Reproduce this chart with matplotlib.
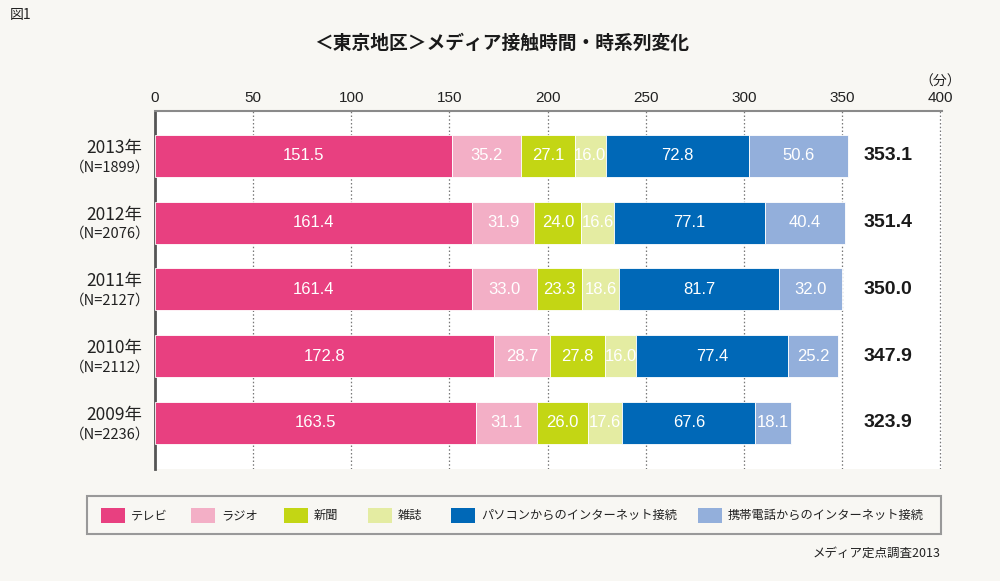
import matplotlib
matplotlib.use("Agg")
import matplotlib.pyplot as plt
from matplotlib.patches import Rectangle

plt.rcParams['font.family'] = ['Noto Sans CJK JP', 'DejaVu Sans']

# data
years = ['2013年', '2012年', '2011年', '2010年', '2009年']
samples = ['（N=1899）', '（N=2076）', '（N=2127）', '（N=2112）', '（N=2236）']
media = ['テレビ', 'ラジオ', '新聞', '雑誌', 'パソコンからのインターネット接続', '携帯電話からのインターネット接続']
tv = [151.5, 161.4, 161.4, 172.8, 163.5]
radio = [35.2, 31.9, 33.0, 28.7, 31.1]
paper = [27.1, 24.0, 23.3, 27.8, 26.0]
magazine = [16.0, 16.6, 18.6, 16.0, 17.6]
pc_net = [72.8, 77.1, 81.7, 77.4, 67.6]
mobile_net = [50.6, 40.4, 32.0, 25.2, 18.1]
totals = [353.1, 351.4, 350.0, 347.9, 323.9]
xticks = [0, 50, 100, 150, 200, 250, 300, 350, 400]

series = [tv, radio, paper, magazine, pc_net, mobile_net]
colors = ['#e84080', '#f3afc6', '#c3d614', '#e4eca2', '#0068b7', '#93afdb']
bg = '#f8f7f3'

fig = plt.figure(figsize=(10, 5.81), dpi=100, facecolor=bg)
ax = fig.add_axes([0.155, 0.193, 0.787, 0.616])
ax.set_facecolor('white')

ypos = list(range(len(years)))
left = [0.0] * len(years)
for vals, col in zip(series, colors):
    bars = ax.barh(ypos, vals, left=left, height=0.63, color=col,
                   edgecolor='white', linewidth=0.6, zorder=3)
    for b, v in zip(bars, vals):
        ax.text(b.get_x() + b.get_width() / 2, b.get_y() + b.get_height() / 2,
                '%.1f' % v, ha='center', va='center', color='white',
                fontsize=12, family=['Liberation Sans', 'DejaVu Sans'], zorder=4)
    left = [l + v for l, v in zip(left, vals)]

# totals at the right
for y, t in zip(ypos, totals):
    ax.text(361, y, '%.1f' % t, ha='left', va='center', fontsize=14,
            fontweight='bold', family=['Liberation Sans', 'DejaVu Sans'], color='#1a1a1a')

ax.set_xlim(0, 401)
ax.set_ylim(4.69, -0.674)
ax.xaxis.tick_top()
ax.set_xticks(xticks)
ax.set_xticklabels([str(v) for v in xticks], fontsize=11, color='#222222',
                   family=['Liberation Sans Narrow', 'Liberation Sans', 'DejaVu Sans'])
ax.tick_params(axis='x', length=0, pad=4)
ax.set_yticks([])
for x in xticks[1:]:
    ax.axvline(x, color='#777777', linestyle=(0, (1.2, 1.8)), linewidth=0.9, zorder=1)

for s in ['right', 'bottom']:
    ax.spines[s].set_visible(False)
ax.spines['left'].set_color('#555555')
ax.spines['left'].set_linewidth(2)
ax.spines['top'].set_color('#8a8a8a')
ax.spines['top'].set_linewidth(1.5)

# year labels on the left
for y, yr, n in zip(ypos, years, samples):
    ax.text(-6.5, y - 0.12, yr, ha='right', va='center', fontsize=12.5, color='#222222')
    ax.text(-2.5, y + 0.17, n, ha='right', va='center', fontsize=10.5, color='#222222')

ax.text(400, -1.12, '（分）', ha='center', va='center', fontsize=10, color='#222222')

fig.text(0.01, 0.974, '図1', ha='left', va='center', fontsize=10, color='#222222')
fig.text(0.502, 0.926, '＜東京地区＞メディア接触時間・時系列変化', ha='center', va='center',
         fontsize=13.5, fontweight='bold', color='#1a1a1a')

# legend box
fig.patches.append(Rectangle((0.087, 1 - 534 / 581), 0.854, 38 / 581,
                             transform=fig.transFigure, facecolor=bg,
                             edgecolor='#999999', linewidth=1.5))
patch_x = [101, 191, 284, 368, 451, 698]
for px, name, col in zip(patch_x, media, colors):
    fig.patches.append(Rectangle((px / 1000, 1 - 523 / 581), 24 / 1000, 15 / 581,
                                 transform=fig.transFigure, facecolor=col,
                                 edgecolor='none'))
    fig.text((px + 30) / 1000, 1 - 515.5 / 581, name, ha='left', va='center',
             fontsize=8.8, color='#222222')

fig.text(0.941, 1 - 553 / 581, 'メディア定点調査2013', ha='right', va='center',
         fontsize=9, color='#222222')

fig.savefig('out.png', dpi=100, facecolor=bg)
